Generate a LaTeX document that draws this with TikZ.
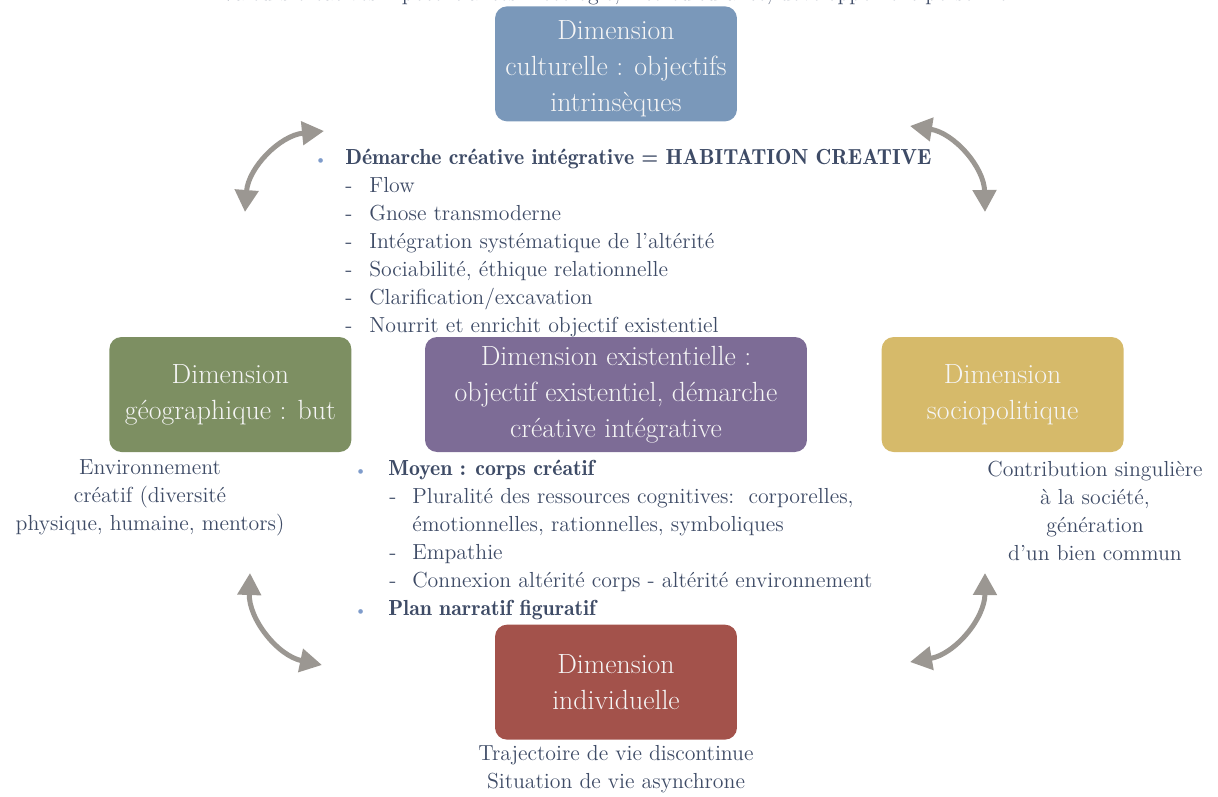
\documentclass[tikz,border=0pt]{standalone}
\usepackage{fontspec}
\usetikzlibrary{positioning,arrows.meta}
\newfontface\demi{lmromandemi10-regular.otf}

\definecolor{bleu}{HTML}{7A98BA}
\definecolor{vert}{HTML}{7D8F62}
\definecolor{violet}{HTML}{7D6C96}
\definecolor{jaune}{HTML}{D6BA6A}
\definecolor{rouge}{HTML}{A3524B}
\definecolor{encre}{HTML}{3E4B66}
\definecolor{puce}{HTML}{7F9CCB}
\definecolor{fleche}{HTML}{9B9792}
\definecolor{blanc}{HTML}{F5F5F5}

\newcommand{\puce}[1]{\makebox[#1][l]{\textcolor{puce}{\small\textbullet}}}
\newcommand{\tiret}[2]{\hspace*{#1}\makebox[#2][l]{-}}

\begin{document}
\begin{tikzpicture}[x=0.02cm, y=0.02cm, node distance=1.46cm,
		b/.style={rounded corners=0.24cm, inner sep=2pt, minimum width=4.84cm, minimum height=2.3cm, align=center, text=blanc, font=\fontsize{15.8}{20.5}\selectfont},
		t/.style={inner sep=0pt, text=encre, font=\fontsize{12.4}{15.9}\selectfont},
		a/.style={line width=0.1cm, draw=fleche, {Triangle[length=0.44cm,width=0.46cm]}-{Triangle[length=0.44cm,width=0.46cm]}}]
		\useasboundingbox (0,0) rectangle (1218,-796);

		\node[b, fill=violet, minimum width=7.64cm] (exist) at (616,-394.5) {Dimension existentielle :\\objectif existentiel, démarche\\créative intégrative};
		\node[b, fill=vert, left=of exist] (geo) {Dimension\\géographique : but};
		\node[b, fill=jaune, right=1.48cm of exist] (socio) {Dimension\\sociopolitique};
		\node[b, fill=bleu, above=4.3cm of exist] (cult) {\\[-4pt]Dimension\\culturelle : objectifs\\intrinsèques};
		\node[b, fill=rouge, below=3.44cm of exist] (indiv) {Dimension\\individuelle};

		\node[t, anchor=base] (valeurs) at (617,0) {Valeurs créatives – potentialités – écologie, interculturalité, développement personnel};
		\node[t, align=center, anchor=north] (envir) at (150,-459) {Environnement\\créatif (diversité\\physique, humaine, mentors)};
		\node[t, align=center, anchor=north] (contrib) at (1095,-461) {Contribution singulière\\à la société,\\génération\\d’un bien commun};
		\node[t, align=center, below=0.1cm of indiv] (trajet) {Trajectoire de vie discontinue\\Situation de vie asynchrone};

		\node[t, align=left, anchor=north west] (demarche) at (314,-149) {\puce{.62cm}{\demi Démarche créative intégrative = HABITATION CREATIVE}\\
			\tiret{.62cm}{.48cm}Flow\\
			\tiret{.62cm}{.48cm}Gnose transmoderne\\
			\tiret{.62cm}{.48cm}Intégration systématique de l’altérité\\
			\tiret{.62cm}{.48cm}Sociabilité, éthique relationnelle\\
			\tiret{.62cm}{.48cm}Clarification/excavation\\
			\tiret{.62cm}{.48cm}Nourrit et enrichit objectif existentiel};
		\node[t, align=left, anchor=north west] (moyen) at (354,-460) {\puce{.68cm}{\demi Moyen : corps créatif}\\
			\tiret{.7cm}{.46cm}Pluralité des ressources cognitives:\ \ corporelles,\\
			\hspace*{1.16cm}émotionnelles, rationnelles, symboliques\\
			\tiret{.7cm}{.46cm}Empathie\\
			\tiret{.7cm}{.46cm}Connexion altérité corps - altérité environnement\\
			\puce{.68cm}{\demi Plan narratif figuratif}};

		\coordinate (hg1) at (245,-212);
		\coordinate (hg2) at (324,-131);
		\coordinate (hd1) at (910,-126);
		\coordinate (hd2) at (985,-212);
		\coordinate (bg1) at (250,-573);
		\coordinate (bg2) at (322,-665);
		\coordinate (bd1) at (985,-573);
		\coordinate (bd2) at (910,-662);
		\draw[a] (hg1) to[bend left=40] (hg2);
		\draw[a] (hd1) to[bend left=40] (hd2);
		\draw[a] (bg1) to[bend right=40] (bg2);
		\draw[a] (bd1) to[bend left=40] (bd2);
	\end{tikzpicture}
\end{document}
